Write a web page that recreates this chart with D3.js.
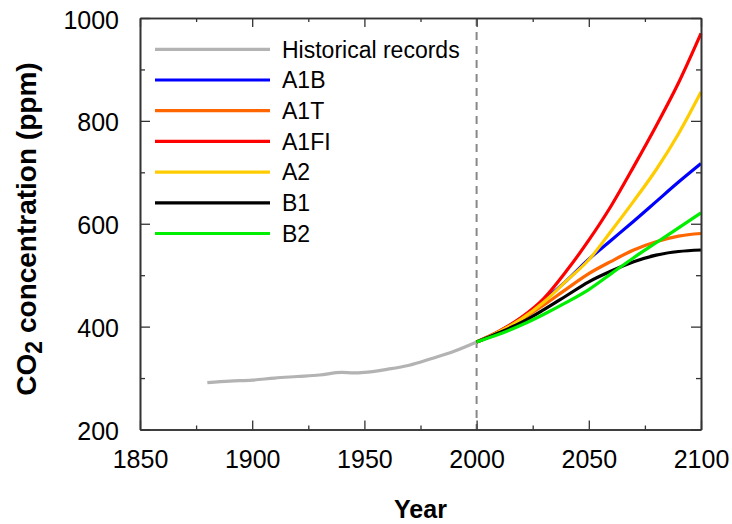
<!DOCTYPE html>
<html>
<head>
<meta charset="utf-8">
<script src="https://cdn.jsdelivr.net/npm/d3@7"></script>
<style>
  body { margin: 0; background: #fff; }
  svg { font-family: "Liberation Sans", Arial, sans-serif; }
</style>
</head>
<body>
<div id="root"></div>
<script>
const w = 732;
const h = 524;
const plotLeft = 140;
const plotRight = 701;
const plotTop = 18;
const plotBottom = 429.5;

// data
const histYears = [1880, 1890, 1900, 1910, 1920, 1930, 1940, 1945, 1950, 1960, 1970, 1980, 1990, 2000];
const histValues = [291, 294, 296, 300, 303, 306, 311, 310, 311, 317, 325, 338, 352, 370];

const scenYears = [2000, 2010, 2020, 2030, 2040, 2050, 2060, 2070, 2080, 2090, 2100];
const a1b = [370, 390, 417, 451, 489, 531, 568, 605, 643, 681, 717];
const a1t = [370, 389, 414, 442, 473, 503, 527, 549, 565, 576, 581];
const a1fi = [370, 391, 418, 455, 508, 568, 635, 711, 790, 874, 970];
const a2 = [370, 390, 415, 448, 489, 530, 586, 644, 705, 775, 856];
const b1 = [370, 388, 408, 433, 460, 487, 508, 526, 539, 546, 549];
const b2 = [370, 385, 403, 424, 447, 472, 503, 534, 563, 592, 621];

const seriesNames = ["Historical records", "A1B", "A1T", "A1FI", "A2", "B1", "B2"];
const seriesColors = ["#b3b3b3", "#0000ff", "#ff6600", "#ff0000", "#ffcc00", "#000000", "#00ee00"];

const xTicks = [1850, 1900, 1950, 2000, 2050, 2100];
const xMinor = [1875, 1925, 1975, 2025, 2075];
const yTicks = [200, 400, 600, 800, 1000];
const yMinor = [300, 500, 700, 900];

const series = [
  histYears.map((y, i) => [y, histValues[i]]),
  ...[a1b, a1t, a1fi, a2, b1, b2].map((vals) => scenYears.map((y, i) => [y, vals[i]])),
];

const svg = d3
  .select("#root")
  .append("svg")
  .attr("width", w)
  .attr("height", h);

const xScale = d3.scaleLinear().domain([1850, 2100]).range([plotLeft, plotRight]);
const yScale = d3.scaleLinear().domain([200, 1000]).range([plotBottom, plotTop]);

// dashed line at 2000
svg
  .append("line")
  .attr("x1", xScale(2000))
  .attr("x2", xScale(2000))
  .attr("y1", plotTop)
  .attr("y2", plotBottom)
  .attr("stroke", "#888")
  .attr("stroke-width", 2)
  .attr("stroke-dasharray", "8,6");

const line = d3
  .line()
  .x((d) => xScale(d[0]))
  .y((d) => yScale(d[1]))
  .curve(d3.curveMonotoneX);

svg
  .append("g")
  .selectAll("path")
  .data(series)
  .join("path")
  .attr("d", line)
  .attr("fill", "none")
  .attr("stroke", (d, i) => seriesColors[i])
  .attr("stroke-width", 3.2)
  .attr("stroke-linejoin", "round");

// axes, ticks pointing inward on all four sides
const axisColor = "#333";
const fmt = d3.format("d");
const frame = svg.append("g");

frame
  .append("g")
  .attr("transform", `translate(0,${plotBottom})`)
  .call(d3.axisBottom(xScale).tickValues(xTicks).tickFormat(fmt).tickSize(-9).tickSizeOuter(0).tickPadding(21))
  .call((g) => g.selectAll("text").attr("font-size", 25).attr("fill", "#000").attr("font-family", "Liberation Sans, Arial, sans-serif"));

frame
  .append("g")
  .attr("transform", `translate(0,${plotBottom})`)
  .call(d3.axisBottom(xScale).tickValues(xMinor).tickSize(-4).tickSizeOuter(0).tickFormat(""));

frame
  .append("g")
  .attr("transform", `translate(0,${plotTop})`)
  .call(d3.axisTop(xScale).tickValues(xTicks).tickSize(-9).tickSizeOuter(0).tickFormat(""));

frame
  .append("g")
  .attr("transform", `translate(0,${plotTop})`)
  .call(d3.axisTop(xScale).tickValues(xMinor).tickSize(-4).tickSizeOuter(0).tickFormat(""));

frame
  .append("g")
  .attr("transform", `translate(${plotLeft},0)`)
  .call(d3.axisLeft(yScale).tickValues(yTicks).tickFormat(fmt).tickSize(-10).tickSizeOuter(0).tickPadding(21))
  .call((g) => g.selectAll("text").attr("font-size", 25).attr("fill", "#000").attr("dy", "0.4em").attr("font-family", "Liberation Sans, Arial, sans-serif"));

frame
  .append("g")
  .attr("transform", `translate(${plotLeft},0)`)
  .call(d3.axisLeft(yScale).tickValues(yMinor).tickSize(-5).tickSizeOuter(0).tickFormat(""));

frame
  .append("g")
  .attr("transform", `translate(${plotRight},0)`)
  .call(d3.axisRight(yScale).tickValues(yTicks).tickSize(-10).tickSizeOuter(0).tickFormat(""));

frame
  .append("g")
  .attr("transform", `translate(${plotRight},0)`)
  .call(d3.axisRight(yScale).tickValues(yMinor).tickSize(-5).tickSizeOuter(0).tickFormat(""));

frame.selectAll("line").attr("stroke", axisColor).attr("stroke-width", 1.3);
frame.selectAll("path.domain").attr("stroke", axisColor).attr("stroke-width", 1.6);

// axis titles
svg
  .append("text")
  .attr("x", (plotLeft + plotRight) / 2)
  .attr("y", 518)
  .attr("text-anchor", "middle")
  .attr("font-weight", "bold")
  .attr("font-size", 25)
  .text("Year");

const yTitle = svg
  .append("text")
  .attr("text-anchor", "middle")
  .attr("transform", `translate(36, 229) rotate(-90)`)
  .attr("font-weight", "bold")
  .attr("font-size", 28);
yTitle.append("tspan").text("CO");
yTitle.append("tspan").attr("dy", 6).attr("font-size", 23).text("2");
yTitle.append("tspan").attr("dy", -6).text(" concentration (ppm)");

// legend
const legend = svg.append("g").attr("transform", "translate(155, 49.3)");

const rows = legend
  .selectAll("g")
  .data(seriesNames)
  .join("g")
  .attr("transform", (d, i) => `translate(0, ${i * 30.7})`);

rows
  .append("line")
  .attr("x1", 0)
  .attr("x2", 115)
  .attr("stroke", (d, i) => seriesColors[i])
  .attr("stroke-width", 3.2);

rows
  .append("text")
  .attr("x", 127)
  .attr("dy", "0.36em")
  .attr("font-size", 23)
  .text((d) => d);
</script>
</body>
</html>
